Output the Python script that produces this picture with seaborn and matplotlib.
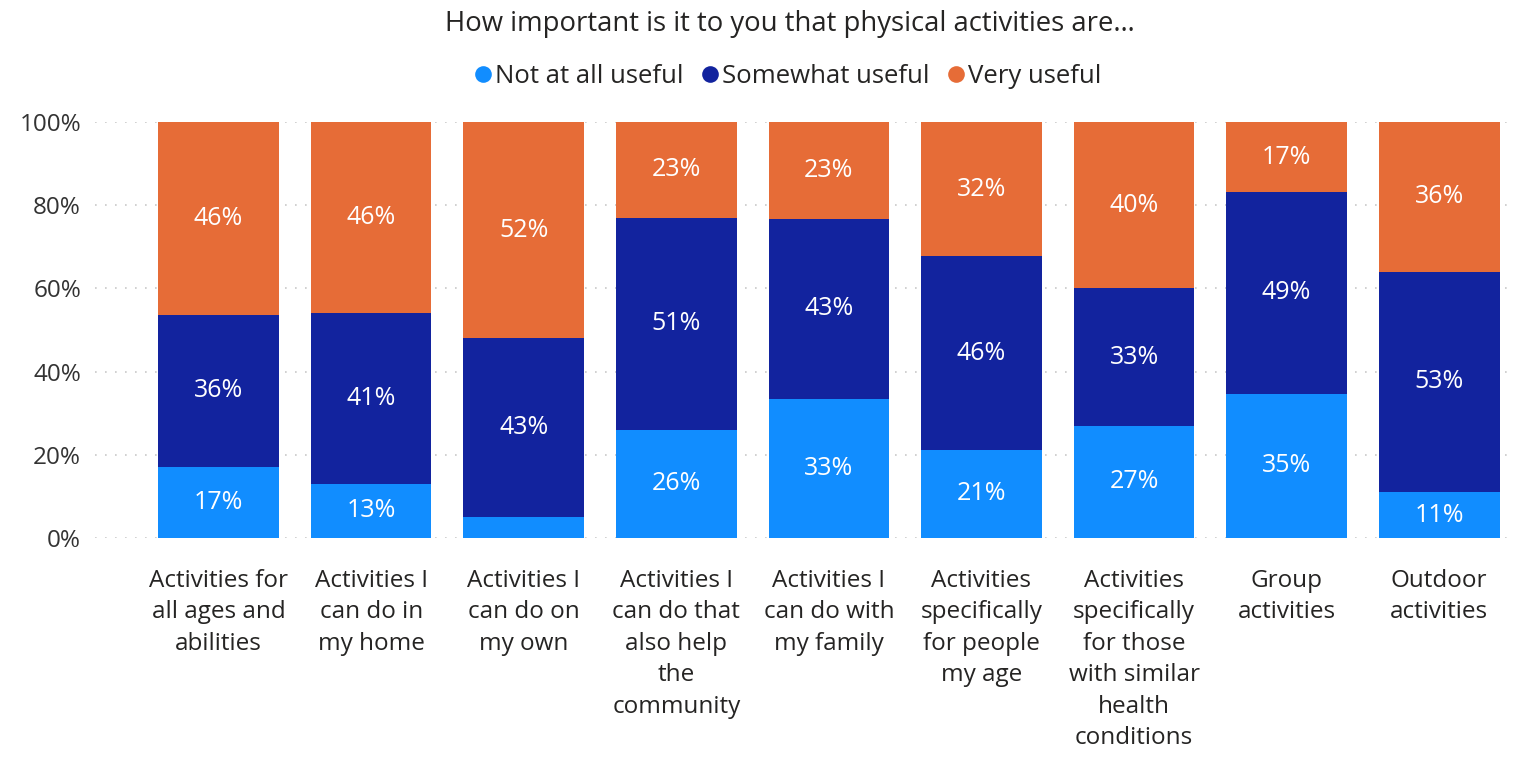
import numpy as np
import pandas as pd
import matplotlib
matplotlib.use("Agg")
import matplotlib.pyplot as plt
import seaborn as sns
from matplotlib.lines import Line2D

categories = [
    "Activities for\nall ages and\nabilities",
    "Activities I\ncan do in\nmy home",
    "Activities I\ncan do on\nmy own",
    "Activities I\ncan do that\nalso help\nthe\ncommunity",
    "Activities I\ncan do with\nmy family",
    "Activities\nspecifically\nfor people\nmy age",
    "Activities\nspecifically\nfor those\nwith similar\nhealth\nconditions",
    "Group\nactivities",
    "Outdoor\nactivities",
]
not_at_all = [17, 13, 5, 26, 33, 21, 27, 35, 11]
somewhat = [36, 41, 43, 51, 43, 46, 33, 49, 53]
very = [46, 46, 52, 23, 23, 32, 40, 17, 36]
series_names = ["Not at all useful", "Somewhat useful", "Very useful"]
colors = ["#118DFF", "#12239E", "#E66C37"]

sns.set_theme(style="white")
plt.rcParams["font.family"] = ["Open Sans", "DejaVu Sans"]

a = np.array(not_at_all, float)
b = np.array(somewhat, float)
c = np.array(very, float)
tot = a + b + c
pa, pb, pc = a / tot * 100, b / tot * 100, c / tot * 100

df = pd.DataFrame({
    "cat": categories,
    "c1": pa,
    "c2": pa + pb,
    "c3": pa + pb + pc,
})

fig = plt.figure(figsize=(15.14, 7.65), dpi=100)
ax = fig.add_axes([95 / 1514, (765 - 538) / 765, 1 - 95 / 1514, 416 / 765])

for col, colr in zip(["c3", "c2", "c1"], [colors[2], colors[1], colors[0]]):
    sns.barplot(data=df, x="cat", y=col, color=colr, width=0.79,
                saturation=1, ax=ax, linewidth=0, zorder=3)

ax.set_xlim(-0.81, 8.49)
ax.set_ylim(0, 100)
ax.set_yticks([0, 20, 40, 60, 80, 100])
ax.set_yticklabels([f"{v}%" for v in [0, 20, 40, 60, 80, 100]],
                   fontsize=17.5, color="#333333")
ax.tick_params(axis="y", length=0, pad=10)
ax.tick_params(axis="x", length=0, pad=22)
ax.set_xticks(range(len(categories)))
ax.set_xticklabels(categories, fontsize=17.5, color="#252423",
                   linespacing=1.42, va="top")
ax.set_xlabel("")
ax.set_ylabel("")
for s in ax.spines.values():
    s.set_visible(False)
ax.grid(axis="y", color="#C8C8C8", linestyle=(0, (1, 5)), linewidth=1.2, zorder=0)
ax.set_axisbelow(True)

bottoms = [np.zeros(len(a)), pa, pa + pb]
heights = [pa, pb, pc]
raws = [a, b, c]
for bot, h, raw in zip(bottoms, heights, raws):
    for i in range(len(raw)):
        if h[i] >= 8:
            ax.text(i, bot[i] + h[i] / 2, f"{int(raw[i])}%", ha="center",
                    va="center", color="white", fontsize=18, zorder=5)

fig.text(0.522, 0.968, "How important is it to you that physical activities are…",
         ha="center", va="center", fontsize=19.8, color="#252423")

handles = [Line2D([0], [0], marker="o", linestyle="", markersize=12,
                  markerfacecolor=cc, markeredgewidth=0) for cc in colors]
fig.legend(handles, series_names, loc="center", bbox_to_anchor=(0.519, 0.900),
           ncol=3, frameon=False, fontsize=18.5, handletextpad=0.0,
           columnspacing=0.5, handlelength=1.0, labelcolor="#252423")

fig.savefig("out.png", dpi=100)
